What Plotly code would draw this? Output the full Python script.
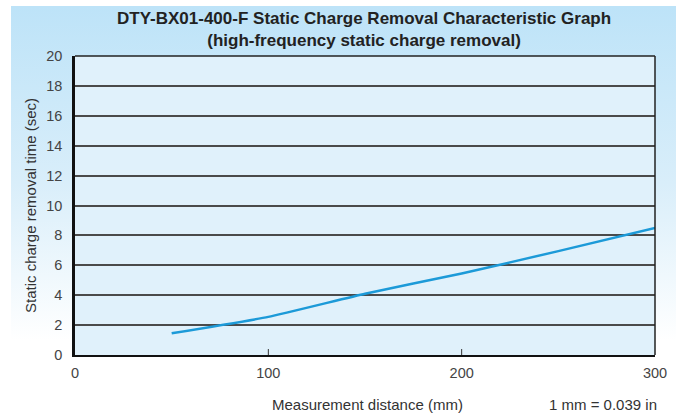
import base64
import plotly.graph_objects as go

distance_mm = [50, 100, 150, 200, 250, 300]
removal_time_sec = [1.45, 2.55, 4.1, 5.45, 6.95, 8.5]
x_ticks = [0, 100, 200, 300]
y_ticks = [0, 2, 4, 6, 8, 10, 12, 14, 16, 18, 20]

W, H = 684, 414
L, R, T, B = 75, 29, 56, 59
PW, PH = W - L - R, H - T - B

fig = go.Figure()
fig.add_trace(go.Scatter(x=distance_mm, y=removal_time_sec, mode="lines",
                         line=dict(color="#1c9ad8", width=2.5, shape="spline", smoothing=0.4),
                         showlegend=False, hoverinfo="skip"))

# background gradient panel as an SVG image
svg = ('<svg xmlns="http://www.w3.org/2000/svg" width="100" height="100" preserveAspectRatio="none">'
       '<defs><linearGradient id="g" x1="0" y1="0" x2="0" y2="1">'
       '<stop offset="0" stop-color="#bde3f8"/><stop offset="0.45" stop-color="#d9eefa"/>'
       '<stop offset="0.85" stop-color="#ffffff"/></linearGradient></defs>'
       '<rect width="100" height="100" fill="url(#g)"/></svg>')
src = "data:image/svg+xml;base64," + base64.b64encode(svg.encode()).decode()

def px(xp):
    return (xp - L) / PW

def py(yp):
    return (H - B - yp) / PH

images = [dict(source=src, xref="paper", yref="paper", x=px(11), y=py(6),
               sizex=(676 - 11) / PW, sizey=(400 - 6) / PH, xanchor="left", yanchor="top",
               sizing="stretch", layer="below")]

shapes = []
shapes.append(dict(type="rect", xref="paper", yref="paper", layer="below",
                   x0=0, x1=1, y0=0, y1=1, fillcolor="#e0f1fb", line=dict(width=0)))
for xv in x_ticks[1:-1]:
    shapes.append(dict(type="line", xref="x", yref="paper", x0=xv, x1=xv, y0=0, y1=0.02,
                       line=dict(color="#333", width=1)))
shapes.append(dict(type="line", xref="paper", yref="paper", x0=1, x1=1, y0=0, y1=1,
                   line=dict(color="#222", width=1.5)))
shapes.append(dict(type="line", xref="paper", yref="paper", x0=0, x1=1, y0=1, y1=1,
                   line=dict(color="#222", width=1.5)))

fig.update_layout(
    width=W, height=H,
    margin=dict(l=L, r=R, t=T, b=B, autoexpand=False),
    paper_bgcolor="white", plot_bgcolor="rgba(0,0,0,0)",
    font=dict(family="Liberation Sans, Arial, sans-serif", color="#333", size=13),
    images=images,
    shapes=shapes,
    xaxis=dict(range=[0, 300], tickvals=x_ticks, showgrid=False, zeroline=False,
               showline=True, linecolor="#111", linewidth=2, ticks="",
               ticklabelstandoff=4, tickfont=dict(size=14.5, color="#444")),
    yaxis=dict(range=[0, 20], tickvals=y_ticks, showgrid=True, gridcolor="#4a4a4a", gridwidth=1.5,
               zeroline=False, showline=True, linecolor="#111", linewidth=2.5,
               ticks="", ticklabelstandoff=7, tickfont=dict(size=14.5, color="#444")),
    annotations=[
        dict(text="<b>DTY-BX01-400-F Static Charge Removal Characteristic Graph<br>(high-frequency static charge removal)</b>",
             xref="paper", yref="paper", x=px(364), y=py(7), xanchor="center", yanchor="top",
             showarrow=False, font=dict(size=17, color="#222")),
        dict(text="Static charge removal time (sec)", xref="paper", yref="paper", x=px(30), y=py(206),
             xanchor="center", yanchor="middle", textangle=-90, showarrow=False,
             font=dict(size=15, color="#333")),
        dict(text="Measurement distance (mm)", xref="paper", yref="paper", x=px(270), y=py(404),
             xanchor="left", yanchor="middle", showarrow=False, font=dict(size=15, color="#333")),
        dict(text="1 mm = 0.039 in", xref="paper", yref="paper", x=px(659), y=py(404),
             xanchor="right", yanchor="middle", showarrow=False, font=dict(size=15, color="#333")),
    ],
)

fig.write_html("out.html", config={"displayModeBar": False},
               post_script="document.body.style.margin='0';document.body.style.padding='0';")
